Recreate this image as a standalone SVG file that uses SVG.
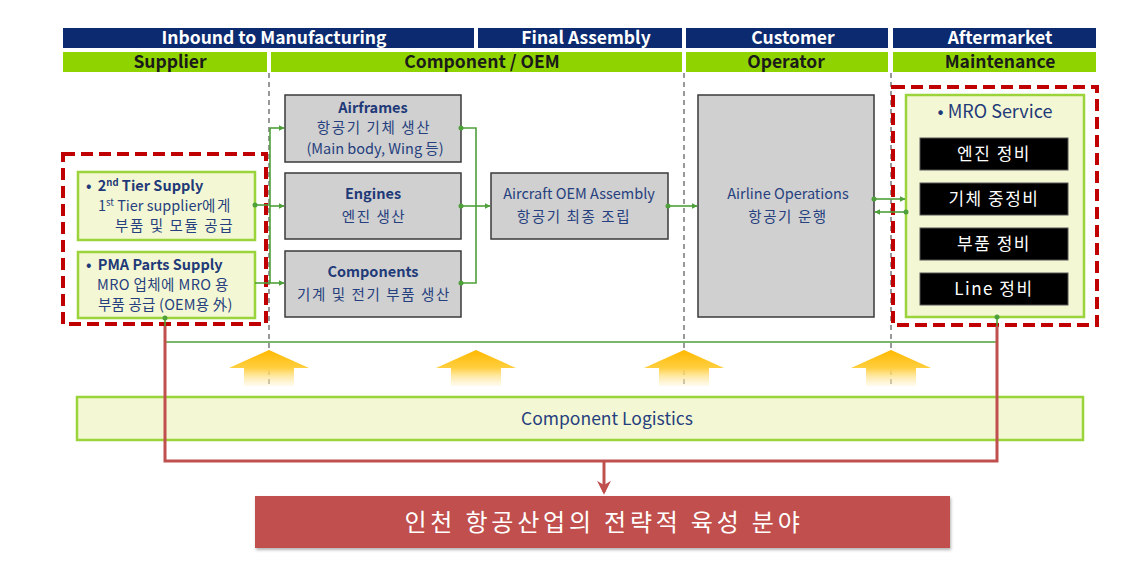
<svg xmlns="http://www.w3.org/2000/svg" width="1128" height="574" viewBox="0 0 1128 574">
<defs>
<style>
text{font-family:"Noto Sans CJK KR","Liberation Sans",sans-serif;}
.hd1{fill:#0b2a6f;}
.hd2{fill:#8fd400;}
.h1t{fill:#fff;font-size:17.5px;font-weight:bold;text-anchor:middle;}
.h2t{fill:#1a1a1a;font-size:17.5px;font-weight:bold;text-anchor:middle;}
.grey{fill:#d0d0d0;stroke:#3a3a3a;stroke-width:1.5;}
.ylw{fill:#f4f7d4;stroke:#9ad43a;stroke-width:2.5;}
.nt{fill:#263f7e;font-size:14.5px;text-anchor:middle;}
.kr{letter-spacing:1.6px;}
.nb{fill:#1f3a78;font-size:14.5px;font-weight:bold;text-anchor:middle;}
.blk{fill:#000;stroke:#555;stroke-width:1;}
.wt{fill:#fff;font-size:17px;text-anchor:middle;letter-spacing:1.5px;}
.reddash{fill:none;stroke:#c00000;stroke-width:4;stroke-dasharray:12,6;}
.vdash{stroke:#555;stroke-width:1.2;stroke-dasharray:5,4;fill:none;}
.gl{stroke:#4ea03a;stroke-width:1.6;fill:none;}
.rl{stroke:#c0504d;stroke-width:3;fill:none;}
.dot{fill:#4ea03a;}
</style>
<marker id="ga" viewBox="0 0 10 10" refX="9" refY="5" markerWidth="6" markerHeight="6" orient="auto" markerUnits="userSpaceOnUse">
<path d="M0,0 L10,5 L0,10 z" fill="#4ea03a"/>
</marker>
<marker id="ra" viewBox="0 0 10 10" refX="8" refY="5" markerWidth="14" markerHeight="14" orient="auto" markerUnits="userSpaceOnUse">
<path d="M0,0 L10,5 L0,10 L3,5 z" fill="#c0504d"/>
</marker>
<linearGradient id="yg" x1="0" y1="0" x2="0" y2="1">
<stop offset="0" stop-color="#ffb800"/>
<stop offset="0.5" stop-color="#ffcf40"/>
<stop offset="1" stop-color="#fff4d0" stop-opacity="0.4"/>
</linearGradient>
<filter id="sh" x="-5%" y="-20%" width="110%" height="150%">
<feDropShadow dx="1" dy="2" stdDeviation="1.5" flood-color="#000" flood-opacity="0.3"/>
</filter>
<path id="uparrow" d="M-40,18 L0,0 L40,18 L25,18 L25,36 L-25,36 L-25,18 z" fill="url(#yg)"/>
</defs>

<g id="headers">
<rect class="hd1" x="63" y="28" width="411" height="20"/>
<text class="h1t" x="274" y="44">Inbound to Manufacturing</text>
<rect class="hd1" x="478" y="28" width="204" height="20"/>
<text class="h1t" x="586" y="44">Final Assembly</text>
<rect class="hd1" x="686" y="28" width="202" height="20"/>
<text class="h1t" x="793" y="44">Customer</text>
<rect class="hd1" x="893" y="28" width="203" height="20"/>
<text class="h1t" x="1000" y="44">Aftermarket</text>
<rect class="hd2" x="63" y="52" width="204" height="20"/>
<text class="h2t" x="170" y="68">Supplier</text>
<rect class="hd2" x="271" y="52" width="411" height="20"/>
<text class="h2t" x="482" y="68">Component / OEM</text>
<rect class="hd2" x="686" y="52" width="202" height="20"/>
<text class="h2t" x="786" y="68">Operator</text>
<rect class="hd2" x="893" y="52" width="203" height="20"/>
<text class="h2t" x="1000" y="68">Maintenance</text>
</g>

<g id="dividers">
<line class="vdash" x1="269" y1="73" x2="269" y2="385"/>
<line class="vdash" x1="684" y1="73" x2="684" y2="385"/>
<line class="vdash" x1="891" y1="73" x2="891" y2="385"/>
</g>

<g id="logistics-arrows">
<use href="#uparrow" x="269" y="350"/>
<use href="#uparrow" x="476" y="350"/>
<use href="#uparrow" x="684" y="350"/>
<use href="#uparrow" x="891" y="350"/>
</g>

<g id="supplier-group">
<rect class="reddash" x="63" y="154" width="203" height="170"/>
</g>
<g id="tier2">
<rect class="ylw" x="78" y="172" width="177" height="68"/>
<text x="86" y="191" style="fill:#1f3a78;font-size:14.5px;font-weight:bold">• <tspan dx="3">2</tspan><tspan font-size="9.5" dy="-5">nd</tspan><tspan dy="5"> Tier Supply</tspan></text>
<text class="nt" x="98" y="211" style="text-anchor:start">1<tspan font-size="9.5" dy="-5">st</tspan><tspan dy="5"> Tier supplier</tspan><tspan class="kr">에게</tspan></text>
<text class="nt kr" x="115" y="231" style="text-anchor:start">부품 및 모듈 공급</text>
</g>
<g id="pma">
<rect class="ylw" x="78" y="252" width="177" height="66"/>
<text x="86" y="270" style="fill:#1f3a78;font-size:14.5px;font-weight:bold">• <tspan dx="3">PMA Parts Supply</tspan></text>
<text class="nt" x="97" y="290" style="text-anchor:start;letter-spacing:0.4px">MRO 업체에 MRO 용</text>
<text class="nt" x="98" y="310" style="text-anchor:start;letter-spacing:0.2px">부품 공급 (OEM용 外)</text>
</g>

<g id="airframes">
<rect class="grey" x="285" y="95" width="176" height="67"/>
<text class="nb" x="373" y="113">Airframes</text>
<text class="nt kr" x="374" y="133">항공기 기체 생산</text>
<text class="nt" x="375" y="154">(Main body, Wing 등)</text>
</g>
<g id="engines">
<rect class="grey" x="285" y="173" width="176" height="66"/>
<text class="nb" x="373" y="199">Engines</text>
<text class="nt kr" x="374" y="222">엔진 생산</text>
</g>
<g id="components">
<rect class="grey" x="285" y="251" width="176" height="66"/>
<text class="nb" x="373" y="277">Components</text>
<text class="nt kr" x="374" y="300">기계 및 전기 부품 생산</text>
</g>
<g id="oem-assembly">
<rect class="grey" x="491" y="173" width="177" height="66"/>
<text class="nt" x="579" y="199">Aircraft OEM Assembly</text>
<text class="nt kr" x="574" y="222">항공기 최종 조립</text>
</g>
<g id="airline">
<rect class="grey" x="698" y="95" width="176" height="222"/>
<text class="nt" x="788" y="199">Airline Operations</text>
<text class="nt kr" x="788" y="222">항공기 운행</text>
</g>

<g id="mro-group">
<rect class="reddash" x="893" y="87" width="204" height="238"/>
<rect class="ylw" x="906" y="95" width="178" height="222"/>
<text x="995" y="118" style="fill:#1f3a78;font-size:18px;text-anchor:middle">• MRO Service</text>
</g>
<g id="mro-engine">
<rect class="blk" x="920" y="138" width="148" height="32"/>
<text class="wt" x="994" y="160">엔진 정비</text>
</g>
<g id="mro-airframe">
<rect class="blk" x="920" y="183" width="148" height="32"/>
<text class="wt" x="994" y="205">기체 중정비</text>
</g>
<g id="mro-parts">
<rect class="blk" x="920" y="228" width="148" height="32"/>
<text class="wt" x="994" y="250">부품 정비</text>
</g>
<g id="mro-line">
<rect class="blk" x="920" y="273" width="148" height="32"/>
<text class="wt" x="994" y="295">Line 정비</text>
</g>

<g id="component-logistics">
<rect x="77" y="397" width="1006" height="43" fill="#f4f7d4" stroke="#9ad43a" stroke-width="2.5"/>
<text x="607" y="425" style="fill:#263f7e;font-size:17.5px;text-anchor:middle">Component Logistics</text>
</g>

<g id="connectors">
<path class="gl" d="M255,205 L270,205"/>
<path class="gl" d="M270,128 L270,283"/>
<path class="gl" d="M270,128 L284,128" marker-end="url(#ga)"/>
<path class="gl" d="M270,206 L284,206" marker-end="url(#ga)"/>
<path class="gl" d="M255,283 L284,283" marker-end="url(#ga)"/>
<path class="gl" d="M461,128 L476,128 L476,283 L461,283"/>
<path class="gl" d="M461,206 L490,206" marker-end="url(#ga)"/>
<path class="gl" d="M668,206 L697,206" marker-end="url(#ga)"/>
<path class="gl" d="M874,199 L905,199" marker-end="url(#ga)"/>
<path class="gl" d="M906,212 L875,212" marker-end="url(#ga)"/>
<path class="gl" d="M165,318 L165,342 L997,342 L997,317"/>
<circle class="dot" cx="255" cy="205" r="2.5"/>
<circle class="dot" cx="461" cy="128" r="2.5"/>
<circle class="dot" cx="461" cy="206" r="2.5"/>
<circle class="dot" cx="461" cy="283" r="2.5"/>
<circle class="dot" cx="668" cy="206" r="2.5"/>
<circle class="dot" cx="874" cy="199" r="2.5"/>
<circle class="dot" cx="906" cy="212" r="2.5"/>
<circle class="dot" cx="165" cy="318" r="2.5"/>
<circle class="dot" cx="997" cy="317" r="2.5"/>
<path class="rl" d="M165,326 L165,461 L997,461 L997,326"/>
<path class="rl" d="M604,461 L604,492" marker-end="url(#ra)"/>
</g>

<g id="strategy">
<rect x="255" y="496" width="695" height="52" fill="#c0504d" filter="url(#sh)"/>
<text x="604" y="531" style="fill:#fff;font-size:24px;text-anchor:middle;letter-spacing:3.8px">인천 항공산업의 전략적 육성 분야</text>
</g>
</svg>
